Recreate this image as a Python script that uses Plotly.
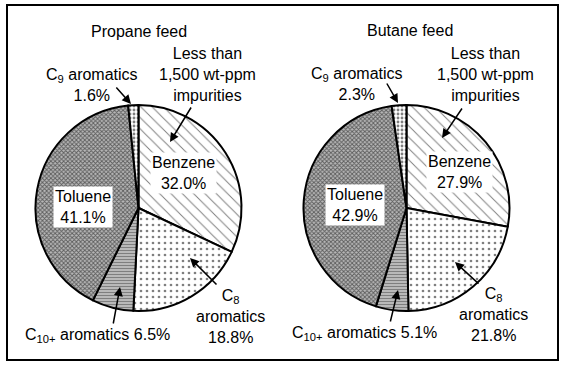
import plotly.graph_objects as go

W, H = 567, 365

categories = ["Benzene", "C8 aromatics", "C10+ aromatics", "Toluene", "C9 aromatics"]
propane_values = [32.0, 18.8, 6.5, 41.1, 1.6]
butane_values = [27.9, 21.8, 5.1, 42.9, 2.3]
feed_titles = ["Propane feed", "Butane feed"]

shapes = ["\\", ".", "-", "x", "."]
sizes = [8, 6, 3, 3, 4]
solid = [0.12, 0.16, 0.7, 0.5, 0.4]
bgs = ["white", "white", "white", "#b8b8b8", "white"]

FONT = "Liberation Sans, Arial, sans-serif"


def px(x):
    return x / W


def py(y):
    return 1 - y / H


fig = go.Figure()
domains = [[px(35), px(242)], [px(303), px(510)]]
for vals, dom in zip([propane_values, butane_values], domains):
    fig.add_trace(go.Pie(
        labels=categories, values=vals, sort=False, direction="clockwise",
        rotation=0, textinfo="none", hoverinfo="label+percent",
        domain=dict(x=dom, y=[py(311), py(105)]),
        marker=dict(
            colors=["white"] * 5,
            line=dict(color="black", width=2),
            pattern=dict(shape=shapes, size=sizes, solidity=solid,
                         fgcolor="black", bgcolor=bgs, fillmode="overlay"),
        ),
        showlegend=False,
    ))

ann = []


def text(x, y, s, bg=None):
    d = dict(x=px(x), y=py(y), xref="paper", yref="paper", text=s,
             showarrow=False, xanchor="center", yanchor="middle",
             font=dict(family=FONT, size=16, color="black"))
    if bg:
        d.update(bgcolor=bg, borderpad=1)
    ann.append(d)


def arrow(tx, ty, hx, hy):
    ann.append(dict(x=px(hx), y=py(hy), xref="paper", yref="paper", text="",
                    showarrow=True, ax=tx - hx, ay=ty - hy, axref="pixel",
                    ayref="pixel", arrowhead=2, arrowsize=1.2, arrowwidth=1.5,
                    arrowcolor="black"))


def fmt(v):
    return f"{v:.1f}%"


layouts = [
    dict(vals=propane_values, title=(139, 32), imp=(207, 75), imp_arrow=(192, 106, 170, 142),
         c9=(92, 85), c9_arrow=(115, 86, 131, 104), benz=(183, 173), tol=(83, 207),
         c8=(230, 316), c8_arrow=(218, 286, 190, 258), c10=(97, 335), c10_arrow=(113, 325, 120, 287)),
    dict(vals=butane_values, title=(410, 30), imp=(485, 74), imp_arrow=(463, 107, 442, 138),
         c9=(357, 84), c9_arrow=(386, 82, 398, 103), benz=(459, 172), tol=(355, 205),
         c8=(493, 314), c8_arrow=(480, 285, 455, 262), c10=(364, 333), c10_arrow=(390, 323, 398, 290)),
]

for t, L in zip(feed_titles, layouts):
    v = L["vals"]
    text(*L["title"], t)
    text(*L["imp"], "Less than<br>1,500 wt-ppm<br>impurities")
    arrow(*L["imp_arrow"])
    text(*L["c9"], f"C<sub>9</sub> aromatics<br>{fmt(v[4])}")
    arrow(*L["c9_arrow"])
    text(*L["benz"], f"Benzene<br>{fmt(v[0])}", bg="white")
    text(*L["tol"], f"Toluene<br>{fmt(v[3])}", bg="white")
    text(*L["c8"], f"C<sub>8</sub><br>aromatics<br>{fmt(v[1])}")
    arrow(*L["c8_arrow"])
    text(*L["c10"], f"C<sub>10+</sub> aromatics {fmt(v[2])}")
    arrow(*L["c10_arrow"])

fig.update_layout(
    width=W, height=H, margin=dict(l=0, r=0, t=0, b=0),
    paper_bgcolor="white", plot_bgcolor="white",
    annotations=ann,
    shapes=[dict(type="rect", xref="paper", yref="paper", x0=px(7), x1=px(558),
                 y0=py(360), y1=py(5), line=dict(color="black", width=2))],
)

fig.write_html("out.html", config={"displayModeBar": False},
               post_script="document.body.style.margin='0';document.body.style.overflow='hidden';")
